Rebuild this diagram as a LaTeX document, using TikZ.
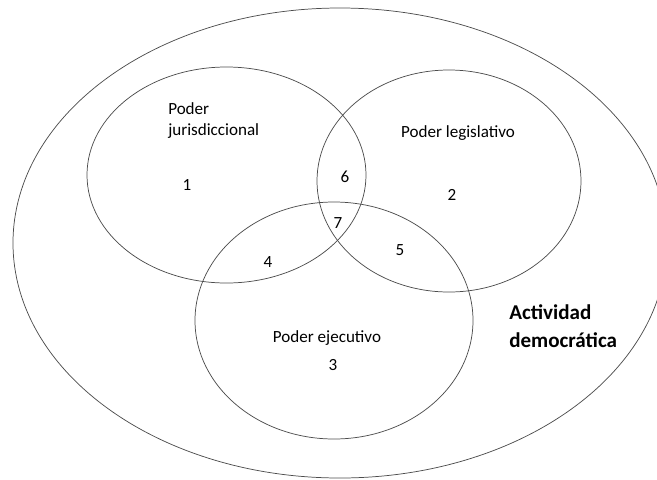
\documentclass[tikz,border=0pt]{standalone}
\usepackage{fontspec}
\setmainfont{Carlito}
\begin{document}
\begin{tikzpicture}[x=0.75pt,y=-0.75pt]
\tikzstyle{every node}+=[inner sep=0pt]
\tikzstyle{setline}=[draw=black!70, line width=0.55pt]
\tikzstyle{smalltext}=[font=\fontsize{12.8}{15.8}\selectfont]
\tikzstyle{bigtext}=[font=\fontsize{15.8}{21}\selectfont\bfseries]
\useasboundingbox (0,0) rectangle (657,479);
% conjunto exterior
\draw [setline] (340,243) ellipse [x radius=327, y radius=235];
% los tres poderes
\draw [setline] (226.5,175) ellipse [x radius=139.5, y radius=108];
\draw [setline] (449,181) ellipse [x radius=132, y radius=111];
\draw [setline] (334,320.5) ellipse [x radius=139, y radius=118.5];
% textos
\node [smalltext, anchor=west, align=left] (jur) at (168,121) {Poder\\jurisdiccional};
\node [smalltext] (leg) at (458,133) {Poder legislativo};
\node [smalltext] (ejec) at (327,338) {Poder ejecutivo};
\node [bigtext, anchor=west, align=left] (act) at (509,326) {Actividad\\democrática};
% regiones
\node [smalltext] (r1) at (187,185) {1};
\node [smalltext] (r2) at (452,195) {2};
\node [smalltext] (r3) at (333,365) {3};
\node [smalltext] (r4) at (268,262) {4};
\node [smalltext] (r5) at (400,250) {5};
\node [smalltext] (r6) at (345,177) {6};
\node [smalltext] (r7) at (338,223) {7};
\end{tikzpicture}
\end{document}
